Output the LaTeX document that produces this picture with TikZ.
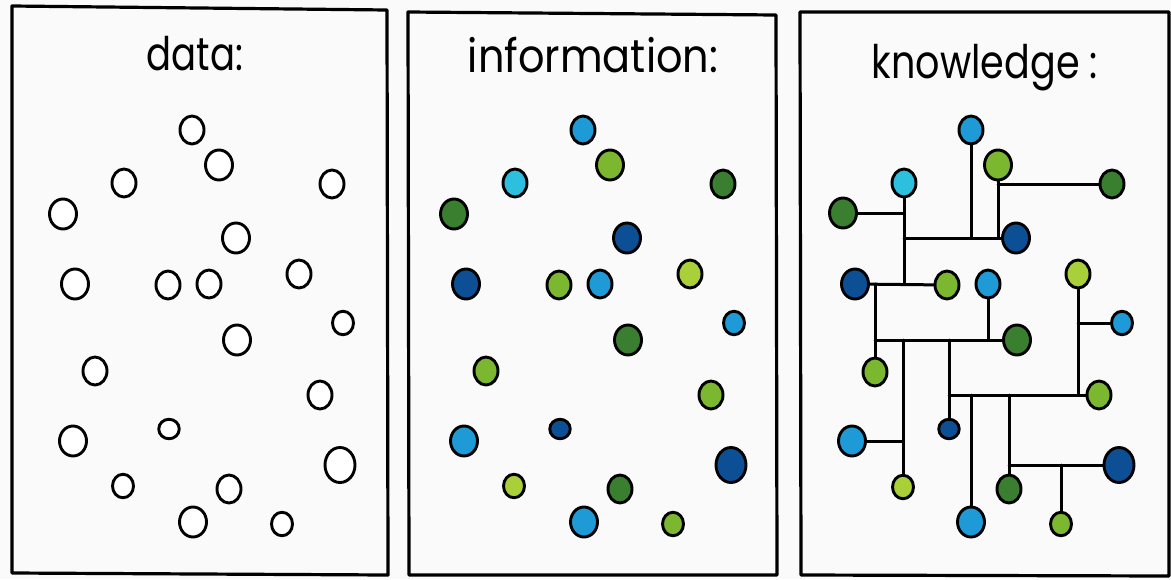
\documentclass[tikz,border=0pt]{standalone}
\usepackage{fontspec}
\setmainfont{Poppins}
\usepackage{tikz}
\usetikzlibrary{shapes.geometric}
\usetikzlibrary{positioning}

\definecolor{paper}{HTML}{FAFAFA}
\definecolor{sky}{HTML}{1E9AD6}
\definecolor{aqua}{HTML}{2CC0DE}
\definecolor{leaf}{HTML}{7CB82F}
\definecolor{lime}{HTML}{A9D038}
\definecolor{forest}{HTML}{3A7F30}
\definecolor{navy}{HTML}{0D4F95}

\begin{document}
\begin{tikzpicture}[x=1pt,y=-1pt,
  frame/.style={line width=3.2pt,line cap=round,line join=round},
  title/.style={anchor=base,yscale=1.25,font=\fontsize{37}{40}\selectfont},
  dot/.style={ellipse,draw=black,line width=2.9pt,inner sep=0pt},
  dotxs/.style={dot,minimum width=20.5pt,minimum height=19.5pt},
  dots/.style={dot,minimum width=21pt,minimum height=23.5pt},
  dotm/.style={dot,minimum width=24pt,minimum height=28pt},
  dotl/.style={dot,minimum width=27pt,minimum height=30pt},
  dotxl/.style={dot,minimum width=30pt,minimum height=35pt},
  link/.style={line width=3pt,line cap=round}]
\fill[paper] (0,0) rectangle (1171,579);
\useasboundingbox (0,0) rectangle (1171,579);

% frames
\draw[frame] (12,6) -- (387,10) -- (388,575) -- (12,573) -- cycle;
\draw[frame] (408,12) -- (776,15) -- (777,575) -- (409,575) -- cycle;
\draw[frame] (800,12) -- (1169,12) -- (1169,576) -- (801,575) -- cycle;

\node[title] (tdata) at (195,70) {data:};
\node[title,xscale=1.12] (tinfo) at (593,72) {information:};
\node[title,xscale=1.03] (tknow) at (985,78) {knowledge :};

% data
\node[dotm,fill=white] (d1) at (192,130) {};
\node[dotl,fill=white] (d2) at (219,165) {};
\node[dotm,fill=white] (d3) at (124,183) {};
\node[dotm,fill=white] (d4) at (332,184) {};
\node[dotl,fill=white] (d5) at (63,214) {};
\node[dotl,fill=white] (d6) at (236,238) {};
\node[dotl,fill=white] (d7) at (75,284) {};
\node[dotm,fill=white] (d8) at (168,285) {};
\node[dotm,fill=white] (d9) at (209,284) {};
\node[dotm,fill=white] (d10) at (299,274) {};
\node[dots,fill=white] (d11) at (343,323) {};
\node[dotl,fill=white] (d12) at (237,340) {};
\node[dotm,fill=white] (d13) at (95,371) {};
\node[dotm,fill=white] (d14) at (320,395) {};
\node[dotl,fill=white] (d15) at (73,441) {};
\node[dotxs,fill=white] (d16) at (169,429) {};
\node[dotxl,fill=white] (d17) at (340,465) {};
\node[dots,fill=white] (d18) at (123,486) {};
\node[dotm,fill=white] (d19) at (229,489) {};
\node[dotl,fill=white] (d20) at (193,522) {};
\node[dots,fill=white] (d21) at (282,524) {};

% information
\begin{scope}[shift={(391,0)}]
\node[dotm,fill=sky] (i1) at (192,130) {};
\node[dotl,fill=leaf] (i2) at (219,165) {};
\node[dotm,fill=aqua] (i3) at (124,183) {};
\node[dotm,fill=forest] (i4) at (332,184) {};
\node[dotl,fill=forest] (i5) at (63,214) {};
\node[dotl,fill=navy] (i6) at (236,238) {};
\node[dotl,fill=navy] (i7) at (75,284) {};
\node[dotm,fill=leaf] (i8) at (168,285) {};
\node[dotm,fill=sky] (i9) at (209,284) {};
\node[dotm,fill=lime] (i10) at (299,274) {};
\node[dots,fill=sky] (i11) at (343,323) {};
\node[dotl,fill=forest] (i12) at (237,340) {};
\node[dotm,fill=leaf] (i13) at (95,371) {};
\node[dotm,fill=leaf] (i14) at (320,395) {};
\node[dotl,fill=sky] (i15) at (73,441) {};
\node[dotxs,fill=navy] (i16) at (169,429) {};
\node[dotxl,fill=navy] (i17) at (340,465) {};
\node[dots,fill=lime] (i18) at (123,486) {};
\node[dotm,fill=forest] (i19) at (229,489) {};
\node[dotl,fill=sky] (i20) at (193,522) {};
\node[dots,fill=leaf] (i21) at (282,524) {};
\end{scope}

% knowledge
\begin{scope}[shift={(779,0)}]
\node[dotm,fill=sky] (k1) at (192,130) {};
\node[dotl,fill=leaf] (k2) at (219,165) {};
\node[dotm,fill=aqua] (k3) at (125,183) {};
\node[dotm,fill=forest] (k4) at (333,184) {};
\node[dotl,fill=forest] (k5) at (64,213) {};
\node[dotl,fill=navy] (k6) at (237,238) {};
\node[dotl,fill=navy] (k7) at (76,284) {};
\node[dotm,fill=leaf] (k8) at (168,285) {};
\node[dotm,fill=sky] (k9) at (209,284) {};
\node[dotm,fill=lime] (k10) at (299,274) {};
\node[dots,fill=sky] (k11) at (343,323) {};
\node[dotl,fill=forest] (k12) at (238,340) {};
\node[dotm,fill=leaf] (k13) at (96,372) {};
\node[dotm,fill=leaf] (k14) at (320,395) {};
\node[dotl,fill=sky] (k15) at (73,441) {};
\node[dotxs,fill=navy] (k16) at (170,429) {};
\node[dotxl,fill=navy] (k17) at (340,465) {};
\node[dots,fill=lime] (k18) at (124,487) {};
\node[dotm,fill=forest] (k19) at (230,489) {};
\node[dotl,fill=sky] (k20) at (192,522) {};
\node[dots,fill=leaf] (k21) at (282,524) {};
\end{scope}

\coordinate (j1) at (k1 |- k6);
\coordinate (j2) at (k3 |- k6);
\coordinate (j3) at (k2 |- k6);
\coordinate (j4) at (k2 |- k4);
\coordinate (j5) at (k3 |- k7);
\coordinate (j6) at (k3 |- k5);
\coordinate (j7) at (k13 |- k7);
\coordinate (j8) at (k13 |- k12);
\coordinate (j9) at (k9 |- k12);
\coordinate (j10) at (k18 |- k12);
\coordinate (j11) at (k18 |- k15);
\coordinate (j12) at (k16 |- k12);
\coordinate (j13) at (k16 |- k14);
\coordinate (j14) at (k20 |- k14);
\coordinate (j15) at (k19 |- k14);
\coordinate (j16) at (k19 |- k17);
\coordinate (j17) at (k21 |- k17);
\coordinate (j18) at (k10 |- k14);
\coordinate (j19) at (k10 |- k11);

\draw[link] (k1) -- (j1);
\draw[link] (j2) -- (k6);
\draw[link] (k2) -- (j3);
\draw[link] (j4) -- (k4);
\draw[link] (k3) -- (j5);
\draw[link] (k5) -- (j6);
\draw[link] (k7) -- (k8);
\draw[link] (j7) -- (k13);
\draw[link] (j8) -- (k12);
\draw[link] (k9) -- (j9);
\draw[link] (j10) -- (k18);
\draw[link] (k15) -- (j11);
\draw[link] (j12) -- (k16);
\draw[link] (j13) -- (k14);
\draw[link] (j14) -- (k20);
\draw[link] (j15) -- (k19);
\draw[link] (j16) -- (k17);
\draw[link] (j17) -- (k21);
\draw[link] (k10) -- (j18);
\draw[link] (j19) -- (k11);

\end{tikzpicture}
\end{document}
